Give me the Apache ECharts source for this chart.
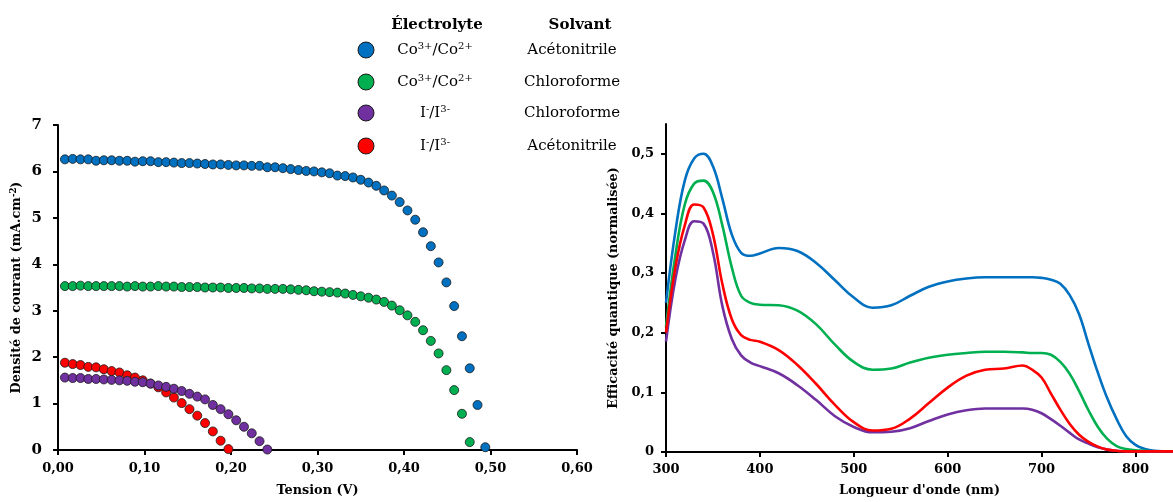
<!DOCTYPE html>
<html>
<head>
<meta charset="utf-8">
<script src="https://cdn.jsdelivr.net/npm/echarts@6/dist/echarts.min.js"></script>
<style>html,body{margin:0;padding:0;background:#fff;}#c{width:1173px;height:502px;}</style>
</head>
<body>
<div id="c"></div>
<script>
// ---- Left chart: J-V curves ----
const voltage = [0.008,0.017,0.026,0.035,0.044,0.053,0.062,0.071,0.080,0.089,0.098,0.107,0.116,0.125,0.134,0.143,0.152,0.161,0.170,0.179,0.188,0.197,0.206,0.215,0.224,0.233,0.242,0.251,0.260,0.269,0.278,0.287,0.296,0.305,0.314,0.323,0.332,0.341,0.350,0.359,0.368,0.377,0.386,0.395,0.404,0.413,0.422,0.431,0.440,0.449,0.458,0.467,0.476,0.485,0.494];
const jCoAcn = [6.26,6.27,6.26,6.26,6.23,6.24,6.24,6.23,6.23,6.21,6.22,6.22,6.20,6.20,6.19,6.18,6.18,6.17,6.16,6.15,6.15,6.14,6.13,6.13,6.12,6.12,6.09,6.09,6.07,6.05,6.03,6.01,6.00,5.98,5.96,5.91,5.90,5.87,5.82,5.76,5.69,5.59,5.48,5.34,5.16,4.96,4.69,4.39,4.04,3.61,3.10,2.45,1.76,0.97,0.06];
const jCoChl = [3.53,3.53,3.54,3.53,3.53,3.53,3.53,3.53,3.52,3.53,3.52,3.52,3.53,3.52,3.52,3.51,3.51,3.51,3.50,3.50,3.50,3.49,3.49,3.49,3.48,3.48,3.47,3.47,3.47,3.46,3.45,3.44,3.42,3.41,3.40,3.39,3.37,3.34,3.31,3.28,3.24,3.19,3.11,3.01,2.90,2.76,2.58,2.35,2.08,1.72,1.29,0.78,0.17];
const jIChl = [1.56,1.55,1.55,1.53,1.53,1.52,1.51,1.50,1.49,1.47,1.46,1.43,1.39,1.36,1.32,1.27,1.21,1.15,1.09,0.97,0.88,0.77,0.64,0.50,0.36,0.19,0.01];
const jIAcn = [1.88,1.85,1.83,1.79,1.78,1.74,1.70,1.67,1.61,1.56,1.50,1.43,1.35,1.24,1.13,1.01,0.88,0.74,0.58,0.40,0.20,0.02];

// ---- Right chart: quantum efficiency ----
const wavelength = [300,310,320,330,340,350,360,370,380,390,400,420,440,460,480,500,520,540,560,580,600,620,640,660,680,690,700,710,720,730,740,750,760,770,780,790,800,810,820,840];
const qeCoAcn = [0.25,0.37,0.455,0.492,0.500,0.479,0.425,0.365,0.334,0.329,0.333,0.342,0.337,0.317,0.288,0.259,0.242,0.246,0.262,0.277,0.286,0.291,0.293,0.293,0.293,0.293,0.292,0.289,0.282,0.263,0.231,0.181,0.133,0.090,0.055,0.027,0.012,0.005,0.002,0.001];
const qeCoChl = [0.21,0.33,0.415,0.450,0.455,0.436,0.380,0.310,0.262,0.250,0.247,0.246,0.237,0.214,0.180,0.151,0.138,0.140,0.150,0.158,0.163,0.166,0.168,0.168,0.167,0.166,0.166,0.163,0.151,0.131,0.102,0.070,0.042,0.022,0.010,0.005,0.003,0.002,0.001,0.001];
const qeIAcn = [0.20,0.31,0.38,0.415,0.410,0.365,0.282,0.223,0.196,0.188,0.185,0.171,0.146,0.114,0.079,0.050,0.036,0.039,0.056,0.082,0.108,0.128,0.138,0.140,0.145,0.138,0.125,0.098,0.071,0.047,0.029,0.017,0.009,0.004,0.002,0.001,0.001,0.001,0.001,0.001];
const qeIChl = [0.185,0.29,0.355,0.387,0.383,0.335,0.245,0.190,0.162,0.150,0.144,0.132,0.112,0.087,0.060,0.042,0.033,0.034,0.040,0.052,0.063,0.070,0.073,0.073,0.073,0.071,0.065,0.055,0.044,0.032,0.021,0.014,0.008,0.004,0.002,0.001,0.001,0.001,0.001,0.001];

const leftXTicks = [0,0.1,0.2,0.3,0.4,0.5,0.6];
const leftYTicks = [0,1,2,3,4,5,6,7];
const rightXTicks = [300,400,500,600,700,800];
const rightYTicks = [0,0.1,0.2,0.3,0.4,0.5];

const legendHeaders = ['Électrolyte', 'Solvant'];
const legendRows = [
  {elec: 'Co{sup|3+}/Co{sup|2+}', solv: 'Acétonitrile', color: '#0070C0'},
  {elec: 'Co{sup|3+}/Co{sup|2+}', solv: 'Chloroforme', color: '#00B050'},
  {elec: 'I{sup|-}/I{sup|3-}', solv: 'Chloroforme', color: '#7030A0'},
  {elec: 'I{sup|-}/I{sup|3-}', solv: 'Acétonitrile', color: '#FF0000'}
];
const colors = {coAcn:'#0070C0', coChl:'#00B050', iChl:'#7030A0', iAcn:'#FF0000'};

const FONT = 'DejaVu Serif';
const pair = (xs, ys) => ys.map((y, i) => [xs[i], y]);
const comma = (v, d) => v.toFixed(d).replace('.', ',');

const axisLine = {show: true, lineStyle: {color: '#000', width: 2}};
const tick = {show: true, inside: false, length: 5, lineStyle: {color: '#000', width: 2}};
const labelStyle = {color: '#000', fontFamily: FONT, fontWeight: 'bold', fontSize: 13};
const nameStyle = {color: '#000', fontFamily: FONT, fontWeight: 'bold', fontSize: 12.8,
  rich: {sup: {fontFamily: FONT, fontWeight: 'bold', fontSize: 8.5, verticalAlign: 'top', padding: [0,0,6,0], color: '#000'}}};

function scatter(name, ys, color) {
  return {name, type: 'scatter', xAxisIndex: 0, yAxisIndex: 0, data: pair(voltage, ys),
    symbol: 'circle', symbolSize: 9,
    itemStyle: {color, opacity: 1, borderColor: '#1a1a1a', borderWidth: 0.8}, z: 3};
}
function line(name, ys, color) {
  return {name, type: 'line', xAxisIndex: 1, yAxisIndex: 1, data: pair(wavelength, ys),
    smooth: 0.4, showSymbol: false, lineStyle: {color, width: 2.6}, itemStyle: {color}};
}

// legend graphics
const graphics = [];
const headerX = [437, 580];
legendHeaders.forEach((h, i) => {
  graphics.push({type: 'text', x: headerX[i], y: 25, style: {text: h, fill: '#000', fontFamily: FONT, fontWeight: 'bold', fontSize: 15, align: 'center', verticalAlign: 'middle'}});
});
const rowY = [50, 82, 113, 146];
legendRows.forEach((r, i) => {
  graphics.push({type: 'circle', shape: {cx: 366, cy: rowY[i], r: 8}, style: {fill: r.color, stroke: '#1a1a1a', lineWidth: 1}});
  graphics.push({type: 'text', x: 435, y: rowY[i], style: {text: r.elec, fill: '#000', fontFamily: FONT, fontSize: 15, align: 'center', verticalAlign: 'middle',
    rich: {sup: {fontFamily: FONT, fontSize: 10, fill: '#000', verticalAlign: 'top', padding: [0,0,8,0]}}}});
  graphics.push({type: 'text', x: 572, y: rowY[i], style: {text: r.solv, fill: '#000', fontFamily: FONT, fontSize: 15, align: 'center', verticalAlign: 'middle'}});
});

const chart = echarts.init(document.getElementById('c'), null, {renderer: 'canvas'});
chart.setOption({
  animation: false,
  backgroundColor: '#fff',
  grid: [
    {left: 58, top: 125, width: 519, height: 326},
    {left: 666, top: 124, width: 509, height: 332}
  ],
  xAxis: [
    {type: 'value', gridIndex: 0, min: 0, max: 0.6, interval: 0.1,
      name: 'Tension (V)', nameLocation: 'middle', nameGap: 34, nameTextStyle: nameStyle,
      axisLine, axisTick: tick, splitLine: {show: false},
      axisLabel: Object.assign({}, labelStyle, {margin: 12, customValues: leftXTicks, formatter: v => comma(v, 2)}),
    },
    {type: 'value', gridIndex: 1, min: 300, max: 840,
      name: "Longueur d'onde (nm)", nameLocation: 'middle', nameGap: 32, nameTextStyle: nameStyle,
      axisLine, axisTick: Object.assign({}, tick, {customValues: rightXTicks}), splitLine: {show: false},
      axisLabel: Object.assign({}, labelStyle, {margin: 11, customValues: rightXTicks, formatter: v => String(v)})
    }
  ],
  yAxis: [
    {type: 'value', gridIndex: 0, min: 0, max: 7, interval: 1,
      name: 'Densité de courant (mA.cm{sup|-2})', nameLocation: 'middle', nameGap: 34, nameRotate: 90, nameTextStyle: nameStyle,
      axisLine, axisTick: tick, splitLine: {show: false},
      axisLabel: Object.assign({}, labelStyle, {fontSize: 15, margin: 16, customValues: leftYTicks, formatter: v => String(v)})
    },
    {type: 'value', gridIndex: 1, min: 0, max: 0.55,
      name: 'Efficacité quantique (normalisée)', nameLocation: 'middle', nameGap: 46, nameRotate: 90, nameTextStyle: nameStyle,
      axisLine, axisTick: Object.assign({}, tick, {customValues: rightYTicks}), splitLine: {show: false},
      axisLabel: Object.assign({}, labelStyle, {margin: 12, customValues: rightYTicks, formatter: v => v === 0 ? '0' : comma(v, 1)})
    }
  ],
  series: [
    scatter('Co3+/Co2+ Acétonitrile', jCoAcn, colors.coAcn),
    scatter('Co3+/Co2+ Chloroforme', jCoChl, colors.coChl),
    scatter('I-/I3- Acétonitrile', jIAcn, colors.iAcn),
    scatter('I-/I3- Chloroforme', jIChl, colors.iChl),
    line('Co3+/Co2+ Acétonitrile', qeCoAcn, colors.coAcn),
    line('Co3+/Co2+ Chloroforme', qeCoChl, colors.coChl),
    line('I-/I3- Chloroforme', qeIChl, colors.iChl),
    line('I-/I3- Acétonitrile', qeIAcn, colors.iAcn)
  ],
  graphic: graphics
});
</script>
</body>
</html>
